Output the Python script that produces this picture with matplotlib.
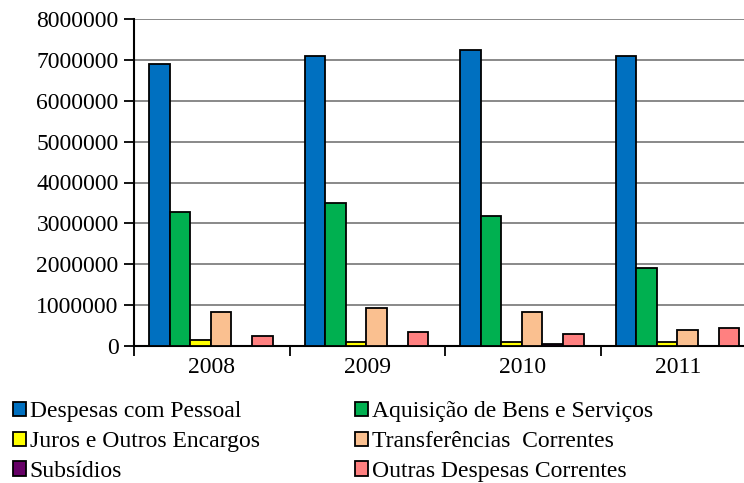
import matplotlib.pyplot as plt
import numpy as np

plt.rcParams['font.family'] = ['Liberation Serif', 'DejaVu Serif']

years = ['2008', '2009', '2010', '2011']
series_names = ['Despesas com Pessoal', 'Aquisição de Bens e Serviços',
                'Juros e Outros Encargos', 'Transferências  Correntes',
                'Subsídios', 'Outras Despesas Correntes']
pessoal = [6890000, 7090000, 7240000, 7090000]
aquisicao = [3270000, 3510000, 3170000, 1920000]
juros = [140000, 100000, 100000, 100000]
transferencias = [830000, 930000, 830000, 390000]
subsidios = [0, 0, 50000, 0]
outras = [240000, 340000, 290000, 440000]
colors = ['#0070C0', '#00B050', '#FFFF00', '#FAC090', '#660066', '#FF8080']

values = [pessoal, aquisicao, juros, transferencias, subsidios, outras]

fig = plt.figure(figsize=(7.44, 4.83), dpi=100)
ax = fig.add_axes([134 / 744, 1 - 346 / 483, 622 / 744, 327 / 483])

width = 0.132
x = np.arange(len(years)) + 0.5
handles = []
for k, (vals, col, name) in enumerate(zip(values, colors, series_names)):
    off = (k - 2.5) * width - 0.005
    b = ax.bar(x + off, vals, width, color=col, edgecolor='black', linewidth=1.3,
               label=name, zorder=3)
    handles.append(b)

ax.set_xlim(0, 4)
ax.set_ylim(0, 8000000)
ax.set_yticks(np.arange(0, 8000001, 1000000))
ax.set_yticklabels([f'{int(v)}' for v in np.arange(0, 8000001, 1000000)], fontsize=17)
ax.yaxis.grid(True, color='#808080', linewidth=1.3, zorder=0)

ax.set_xticks([0, 1, 2, 3, 4])
ax.set_xticklabels([])
ax.set_xticks(x, minor=True)
ax.set_xticklabels(years, minor=True, fontsize=17)
ax.tick_params(axis='x', which='minor', length=0, pad=8)
ax.tick_params(axis='x', which='major', length=7, width=1.3, direction='out')
ax.tick_params(axis='y', length=7, width=1.3, direction='out', pad=4)

for s in ['top', 'right']:
    ax.spines[s].set_visible(False)
ax.spines['left'].set_linewidth(1.5)
ax.spines['bottom'].set_linewidth(1.5)

order = [0, 2, 4, 1, 3, 5]
leg = fig.legend([handles[i] for i in order], [series_names[i] for i in order],
                 loc='upper left', bbox_to_anchor=(13 / 744, 1 - 401 / 483),
                 ncol=2, frameon=False, fontsize=17, borderpad=0, borderaxespad=0,
                 handlelength=0.55, handleheight=0.55, handletextpad=0.15,
                 columnspacing=4.05, labelspacing=0.38)

fig.savefig('out.png', dpi=100)
